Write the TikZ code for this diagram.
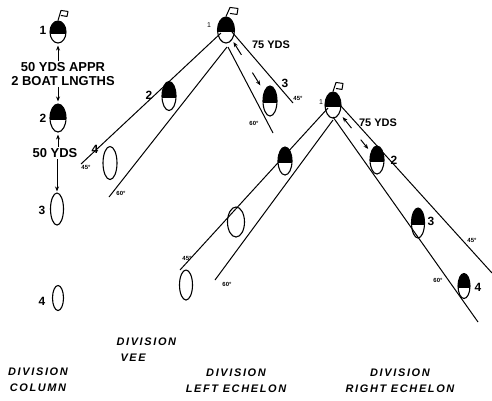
\documentclass[tikz,border=0pt]{standalone}
\usepackage{fontspec}
\setmainfont{Liberation Sans}
\newfontfamily\capfont[LetterSpace=15]{Liberation Sans}
\usetikzlibrary{shapes.geometric,arrows.meta,calc}

\begin{document}
\begin{tikzpicture}[x=1bp,y=-1bp,
  boat/.style={ellipse,draw,line width=1.1bp,inner sep=0pt,minimum width=14bp,minimum height=28bp},
  lead/.style={boat,path picture={\fill (path picture bounding box.north west) rectangle ([yshift=-2bp]path picture bounding box.east);}},
  num/.style={font=\bfseries\fontsize{12}{12}\selectfont,inner sep=0pt},
  one/.style={font=\fontsize{7}{7}\selectfont,inner sep=0pt},
  yds/.style={font=\bfseries\fontsize{13}{14}\selectfont,align=center,inner sep=1pt},
  small yds/.style={font=\bfseries\fontsize{11}{11}\selectfont,inner sep=0pt},
  ang/.style={font=\bfseries\fontsize{6}{6}\selectfont,inner sep=0pt},
  caption/.style={font=\capfont\bfseries\itshape\fontsize{11}{16}\selectfont,align=center},
  arr/.style={-{Stealth[length=5bp,width=4bp]},line width=1bp},
  ray/.style={line width=1bp},
  flag/.style={line width=1bp,line join=round}]
\useasboundingbox (0,0) rectangle (492,400);

\node[lead,minimum width=16bp,minimum height=22bp] (c1) at (58,32) {};
\node[lead,minimum width=16bp] (c2) at (58,118) {};
\node[boat,minimum width=13bp,minimum height=32bp] (c3) at (57,209) {};
\node[boat,minimum width=11bp,minimum height=25bp] (c4) at (58,298) {};
\draw[flag] (c1.north) -- ++(3,-10) -- ++(7,1) -- ++(-1,5) -- ++(-6,-1);
\node[num] (cn1) at (43,30) {1};
\node[num] (cn2) at (43,118) {2};
\node[num] (cn3) at (42,210) {3};
\node[num] (cn4) at (42,301) {4};
\node[yds] (cd1) at (63,74) {50 YDS APPR\\2 BOAT LNGTHS};
\node[yds] (cd2) at (55,153) {50 YDS};
\draw[arr,shorten >=2bp] (cd1.north -| c1) -- (c1.south);
\draw[arr,shorten >=2bp] (cd1.south -| c2) -- (c2.north);
\draw[arr,shorten >=2bp] (cd2.north -| c2) -- (c2.south);
\draw[arr,shorten >=1bp] (cd2.south -| c3) -- (c3.north);

\node[lead,minimum width=17bp,minimum height=26bp] (v1) at (226,30) {};
\node[lead,minimum width=14bp,minimum height=29bp] (v2) at (169,96) {};
\node[lead,minimum width=14bp,minimum height=30bp] (v3) at (270,101) {};
\node[boat,minimum width=14bp,minimum height=33bp] (v4) at (110,163) {};
\draw[flag] (v1.north) -- ++(4,-9) -- ++(8,1) -- ++(-1,6) -- ++(-7,-1);
\node[one] (vn1) at (209,25) {1};
\node[num] (vn2) at (149,95) {2};
\node[num] (vn3) at (285,83) {3};
\node[num] (vn4) at (95,149) {4};
\coordinate (vlo1) at (221,33);
\coordinate (vlo2) at (81,164);
\coordinate (vli1) at (227,47);
\coordinate (vli2) at (109,197);
\coordinate (vro1) at (232,32);
\coordinate (vro2) at (293,103);
\coordinate (vri1) at (228,47);
\coordinate (vri2) at (273,133);
\draw[ray] (vlo1) -- (vlo2);
\draw[ray] (vli1) -- (vli2);
\draw[ray] (vro1) -- (vro2);
\draw[ray] (vri1) -- (vri2);
\node[ang] (va1) at (86,167) {45°};
\node[ang] (va2) at (121,193) {60°};
\node[ang] (va3) at (298,98) {45°};
\node[ang] (va4) at (254,123) {60°};
\node[small yds] (vd) at (271,45) {75 YDS};
\draw[arr] ($(v1)!.35!(v3)$) -- ($(v1)!.17!(v3)$);
\draw[arr] ($(v1)!.6!(v3)$) -- ($(v1)!.78!(v3)$);

\node[lead,minimum width=16bp,minimum height=26bp] (e1) at (333,105) {};
\node[lead,minimum width=14bp,minimum height=28bp] (e2) at (285,161) {};
\node[boat,minimum width=17bp,minimum height=30bp] (e3) at (236,222) {};
\node[boat,minimum width=13bp,minimum height=30bp] (e4) at (186,285) {};
\draw[flag] (e1.north) -- ++(3,-9) -- ++(7,1) -- ++(-1,6) -- ++(-6,-1);
\node[one] (en1) at (321,102) {1};
\coordinate (elo1) at (328,108);
\coordinate (elo2) at (180,270);
\coordinate (eli1) at (333,120);
\coordinate (eli2) at (215,280);
\draw[ray] (elo1) -- (elo2);
\draw[ray] (eli1) -- (eli2);
\node[ang] (ea1) at (187,258) {45°};
\node[ang] (ea2) at (227,284) {60°};

\node[lead,minimum width=14bp,minimum height=28bp] (r2) at (377,160) {};
\node[lead,minimum width=13bp,minimum height=30bp] (r3) at (418,223) {};
\node[lead,minimum width=12bp,minimum height=25bp] (r4) at (464,286) {};
\node[num] (rn2) at (394,160) {2};
\node[num] (rn3) at (431,221) {3};
\node[num] (rn4) at (478,287) {4};
\coordinate (rro1) at (340,105);
\coordinate (rro2) at (492,273);
\coordinate (rri1) at (333,117);
\coordinate (rri2) at (478,322);
\draw[ray] (rro1) -- (rro2);
\draw[ray] (rri1) -- (rri2);
\node[ang] (ra1) at (472,240) {45°};
\node[ang] (ra2) at (438,280) {60°};
\node[small yds] (rd) at (378,123) {75 YDS};
\draw[arr] ($(e1)!.42!(r2)$) -- ($(e1)!.22!(r2)$);
\draw[arr] ($(e1)!.63!(r2)$) -- ($(e1)!.8!(r2)$);

\node[caption] (col) at (38,380) {DIVISION\\COLUMN};
\node[caption,align=left,anchor=west] (vee) at (113,350) {DIVISION\\\hspace{4bp}VEE};
\node[caption] (lft) at (236,381) {DIVISION\\LEFT ECHELON};
\node[caption] (rgt) at (400,381) {DIVISION\\RIGHT ECHELON};
\end{tikzpicture}
\end{document}
